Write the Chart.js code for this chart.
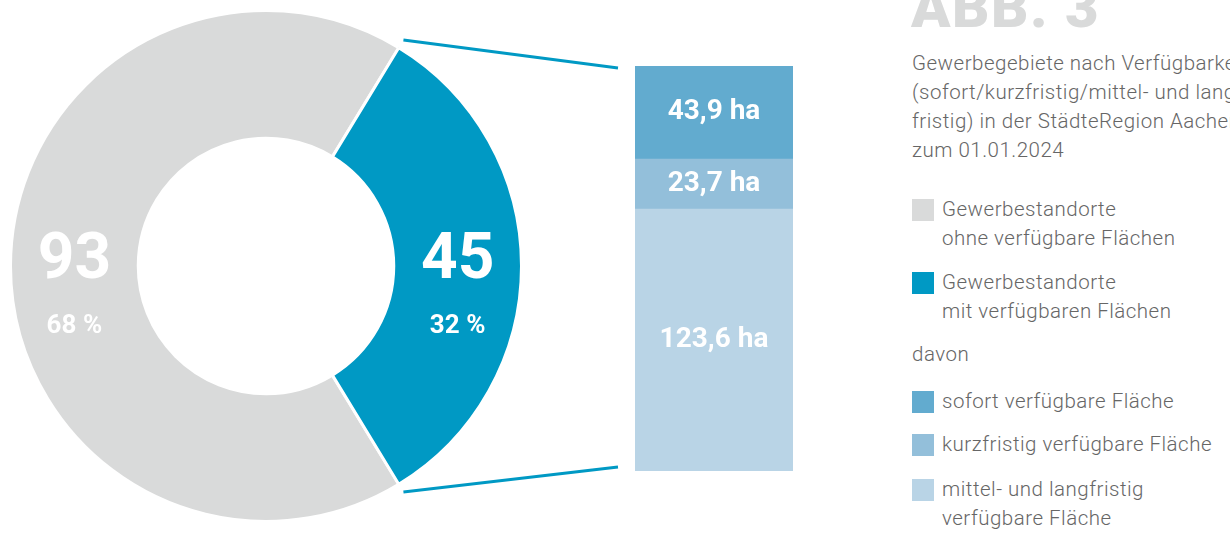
<!DOCTYPE html>
<html>
<head>
<meta charset="utf-8">
<script src="https://cdn.jsdelivr.net/npm/chart.js@4.4.1/dist/chart.umd.min.js"></script>
<style>
 body{margin:0;width:1230px;height:534px;overflow:hidden;background:#fff;position:relative;font-family:Roboto,"Noto Sans",sans-serif;}
 #ring{position:absolute;left:0;top:0;}
 #bar{position:absolute;left:635px;top:66px;}
 #lines{position:absolute;left:0;top:0;pointer-events:none;}
 .side{position:absolute;left:912px;top:0;white-space:nowrap;color:#666;font-weight:300;font-size:20.5px;letter-spacing:0.5px;}
 .title{position:absolute;left:911px;top:-22px;font-size:58px;line-height:1;font-weight:900;color:#d9dada;letter-spacing:1.5px;white-space:nowrap;}
 .desc{position:absolute;top:49px;line-height:29px;}
 .leg{position:absolute;line-height:28.5px;padding-left:30px;}
 .leg i{position:absolute;left:0;top:4px;width:22px;height:22px;}
 .davon{position:absolute;top:342px;}
</style>
</head>
<body>
<div class="title">ABB. 3</div>
<div class="side">
  <div class="desc">Gewerbegebiete nach Verfügbarkeit<br>(sofort/kurzfristig/mittel- und lang-<br>fristig) in der StädteRegion Aachen<br>zum 01.01.2024</div>
  <div id="legend"></div>
  <div class="davon">davon</div>
</div>
<canvas id="ring" width="532" height="532"></canvas>
<canvas id="bar" width="158" height="405"></canvas>
<canvas id="lines" width="1230" height="534"></canvas>
<script>
// Gewerbestandorte (Anzahl)
var ringLabels = ['Gewerbestandorte ohne verfügbare Flächen', 'Gewerbestandorte mit verfügbaren Flächen'];
var ringValues = [93, 45];
var ringPercent = ['68 %', '32 %'];
var ringColors = ['#d9dada', '#0099c4'];

// davon Flächen in ha (unten nach oben)
var barLabels = ['mittel- und langfristig verfügbare Fläche', 'kurzfristig verfügbare Fläche', 'sofort verfügbare Fläche'];
var barValues = [123.6, 23.7, 43.9];
var barColors = ['#b9d4e6', '#93bfda', '#62abcf'];

var legendItems = [
  {text: 'Gewerbestandorte<br>ohne verfügbare Flächen', color: ringColors[0], top: 195},
  {text: 'Gewerbestandorte<br>mit verfügbaren Flächen', color: ringColors[1], top: 268},
  {text: 'sofort verfügbare Fläche', color: barColors[2], top: 387},
  {text: 'kurzfristig verfügbare Fläche', color: barColors[1], top: 430},
  {text: 'mittel- und langfristig<br>verfügbare Fläche', color: barColors[0], top: 475}
];
var lg = document.getElementById('legend');
for (var i = 0; i < legendItems.length; i++) {
  var d = document.createElement('div');
  d.className = 'leg';
  d.style.top = legendItems[i].top + 'px';
  d.innerHTML = '<i style="background:' + legendItems[i].color + '"></i>' + legendItems[i].text;
  lg.appendChild(d);
}

var total = ringValues[0] + ringValues[1];
// blue part centred on the right side
var rot = 90 + 180 * ringValues[1] / total;

var ringText = {
  id: 'ringText',
  afterDraw: function(chart) {
    var ctx = chart.ctx;
    var arcs = chart.getDatasetMeta(0).data;
    ctx.save();
    ctx.fillStyle = '#fff';
    ctx.textAlign = 'center';
    ctx.textBaseline = 'middle';
    for (var i = 0; i < arcs.length; i++) {
      var p = arcs[i].tooltipPosition();
      ctx.font = 'bold 64px Roboto';
      ctx.fillText(ringValues[i], p.x, p.y - 4);
      ctx.font = 'bold 26px Roboto';
      ctx.fillText(ringPercent[i], p.x, p.y + 60);
    }
    ctx.restore();
  }
};

var ring = new Chart(document.getElementById('ring'), {
  type: 'doughnut',
  data: {
    labels: ringLabels,
    datasets: [{data: ringValues, backgroundColor: ringColors, borderColor: '#fff', borderWidth: 3}]
  },
  options: {
    responsive: false,
    animation: false,
    rotation: rot,
    cutout: '50%',
    layout: {padding: 9},
    plugins: {legend: {display: false}, tooltip: {enabled: false}}
  },
  plugins: [ringText]
});

var barData = [];
for (var j = 0; j < barValues.length; j++) {
  barData.push({label: barLabels[j], data: [barValues[j]], backgroundColor: barColors[j],
    barPercentage: 1, categoryPercentage: 1});
}

var barText = {
  id: 'barText',
  afterDraw: function(chart) {
    var ctx = chart.ctx;
    ctx.save();
    ctx.fillStyle = '#fff';
    ctx.textAlign = 'center';
    ctx.textBaseline = 'middle';
    ctx.font = 'bold 28px Roboto';
    for (var i = 0; i < barValues.length; i++) {
      var b = chart.getDatasetMeta(i).data[0];
      ctx.fillText(barValues[i].toFixed(1).replace('.', ',') + ' ha', b.x, (b.y + b.base) / 2);
    }
    ctx.restore();
  }
};

var bar = new Chart(document.getElementById('bar'), {
  type: 'bar',
  data: {labels: ['davon'], datasets: barData},
  options: {
    responsive: false,
    animation: false,
    layout: {padding: 0},
    scales: {
      x: {stacked: true, display: false},
      y: {stacked: true, display: false, min: 0, max: barValues[0] + barValues[1] + barValues[2]}
    },
    plugins: {legend: {display: false}, tooltip: {enabled: false}}
  },
  plugins: [barText]
});

// connector lines from the blue arc to the bar
function drawLines() {
  var c = document.getElementById('lines').getContext('2d');
  var arc = ring.getDatasetMeta(0).data[1];
  var r = arc.outerRadius + 9;
  var a1 = arc.startAngle, a2 = arc.endAngle;
  var left = 635 + bar.chartArea.left - 17;
  var top = 66 + bar.chartArea.top + 2;
  var bottom = 66 + bar.chartArea.bottom - 4;
  c.strokeStyle = '#0099c4';
  c.lineWidth = 3;
  c.beginPath();
  c.moveTo(arc.x + r * Math.cos(a1), arc.y + r * Math.sin(a1));
  c.lineTo(left, top);
  c.moveTo(arc.x + r * Math.cos(a2), arc.y + r * Math.sin(a2));
  c.lineTo(left, bottom);
  c.stroke();
}
drawLines();
</script>
</body>
</html>
